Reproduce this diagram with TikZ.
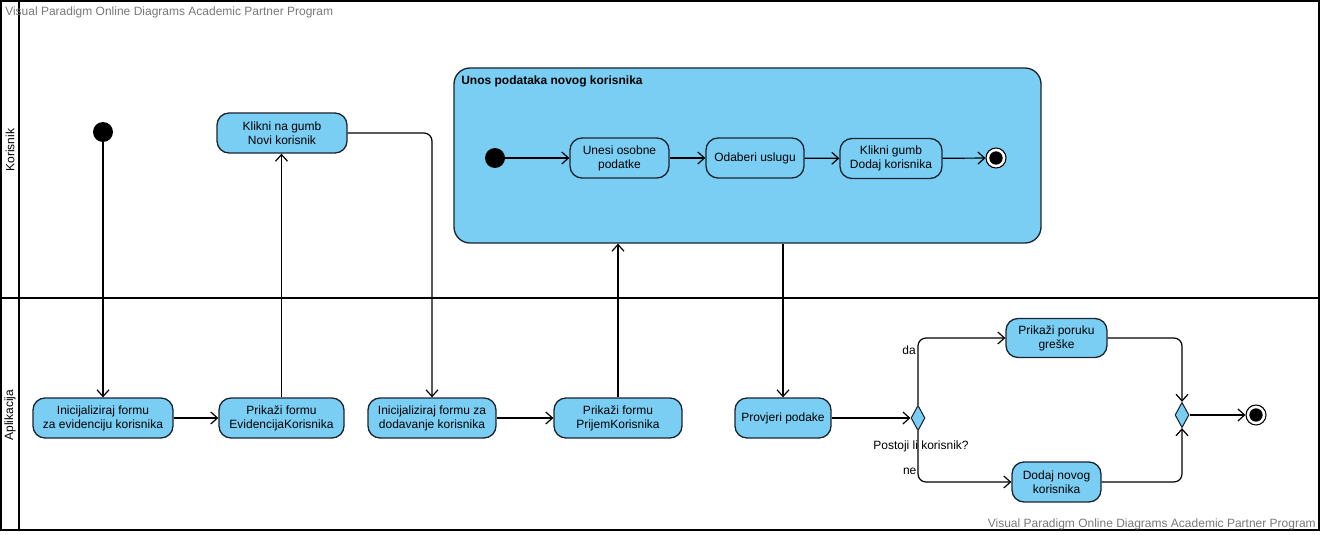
\documentclass[tikz,border=0pt]{standalone}
\usepackage{fontspec}
\setmainfont{Liberation Sans}
\usetikzlibrary{arrows.meta,shapes.geometric}
\definecolor{actfill}{RGB}{122,206,244}
\definecolor{actdraw}{RGB}{28,36,46}
\definecolor{wmgray}{RGB}{120,120,120}
\begin{document}
\begin{tikzpicture}[x=0.75pt,y=-0.75pt,
  font=\fontsize{9}{10.5}\selectfont,
  act/.style={draw=actdraw,fill=actfill,line width=1pt,rounded corners=9pt,align=center,inner sep=1pt,minimum height=30pt},
  initnode/.style={circle,fill=black,minimum size=15pt,inner sep=0pt},
  finnode/.style={circle,draw=black,fill=white,line width=0.8pt,minimum size=15pt,inner sep=0pt},
  decis/.style={diamond,draw=actdraw,fill=actfill,line width=0.8pt,minimum width=10.5pt,minimum height=19pt,inner sep=0pt},
  flow/.style={draw=black,line width=0.9pt,-{Straight Barb[length=5pt,width=9pt]}},
  lane/.style={draw=black,line width=1.5pt},
  wm/.style={text=wmgray,inner sep=0pt}
]
\useasboundingbox (0,0) rectangle (1321,535);
% swimlanes
\draw[lane] (1,1) rectangle (1319,530);
\draw[lane] (19,1) -- (19,530);
\draw[lane] (1,298) -- (1319,298);
\node[rotate=90,inner sep=0pt] (laneK) at (10,150) {Korisnik};
\node[rotate=90,inner sep=0pt] (laneA) at (10,415) {Aplikacija};
\node[wm,anchor=west] (wm1) at (5,12) {Visual Paradigm Online Diagrams Academic Partner Program};
\node[wm,anchor=east] (wm2) at (1316,524) {Visual Paradigm Online Diagrams Academic Partner Program};

% Korisnik lane
\node[initnode] (start) at (103,132) {};
\node[act,minimum width=97.5pt] (klik) at (282,133) {Klikni na gumb\\Novi korisnik};
\node[act,minimum width=440.25pt,minimum height=131.25pt,rounded corners=12pt] (comp) at (747.5,155.5) {};
\node[anchor=west,inner sep=0pt,font=\fontsize{9}{10.5}\selectfont\bfseries] (comptitle) at (461,81) {Unos podataka novog korisnika};
\node[initnode] (cstart) at (495,158) {};
\node[act,minimum width=74.25pt] (unesi) at (619.5,158) {Unesi osobne\\podatke};
\node[act,minimum width=73.5pt] (odab) at (755,158) {Odaberi uslugu};
\node[act,minimum width=76.5pt] (kdod) at (891,158.5) {Klikni gumb\\Dodaj korisnika};
\node[finnode] (cfin) at (996,158) {};
\fill (cfin) circle (5pt);

% Aplikacija lane
\node[act,minimum width=105pt] (i1) at (103,418) {Inicijaliziraj formu\\za evidenciju korisnika};
\node[act,minimum width=93.75pt] (p1) at (281.5,418) {Prikaži formu\\EvidencijaKorisnika};
\node[act,minimum width=96pt] (i2) at (432,418) {Inicijaliziraj formu za\\dodavanje korisnika};
\node[act,minimum width=96pt] (p2) at (618,418) {Prikaži formu\\PrijemKorisnika};
\node[act,minimum width=72pt] (prov) at (783,418) {Provjeri podake};
\node[decis] (d1) at (918,418) {};
\node[act,minimum width=75.75pt,minimum height=29.25pt] (poruka) at (1056.5,338) {Prikaži poruku\\greške};
\node[act,minimum width=66.75pt] (dodaj) at (1056.5,482) {Dodaj novog\\korisnika};
\node[decis] (m) at (1182,415) {};
\node[finnode] (fin) at (1256,415) {};
\fill (fin) circle (5pt);
\node[inner sep=0pt] (q) at (921,446) {Postoji li korisnik?};

% flows
\draw[flow] (start) -- (i1.north);
\draw[flow] (i1) -- (p1);
\draw[flow] (p1.north) -- (p1.north |- klik.south);
\draw[flow,rounded corners=6pt] (klik.east) -| (i2.north);
\draw[flow] (i2) -- (p2);
\draw[flow] (p2.north) -- (p2.north |- comp.south);
\draw[flow] (comp.south -| prov.north) -- (prov.north);
\draw[flow] (cstart) -- (unesi);
\draw[flow] (unesi) -- (odab);
\draw[flow] (odab) -- (kdod);
\draw[flow] (kdod) -- (cfin);
\draw[flow] (prov) -- (d1);
\draw[flow,rounded corners=6pt] (d1.north) |- (poruka.west);
\draw[flow,rounded corners=6pt] (d1.south) |- (dodaj.west);
\node[anchor=east,inner sep=0pt] (lda) at ([xshift=-1.5pt]d1.north |- 0,350) {da};
\node[anchor=east,inner sep=0pt] (lne) at ([xshift=-1pt]d1.south |- 0,471) {ne};
\draw[flow,rounded corners=6pt] (poruka.east) -| (m.north);
\draw[flow,rounded corners=6pt] (dodaj.east) -| (m.south);
\draw[flow] (m) -- (fin);
\end{tikzpicture}
\end{document}
